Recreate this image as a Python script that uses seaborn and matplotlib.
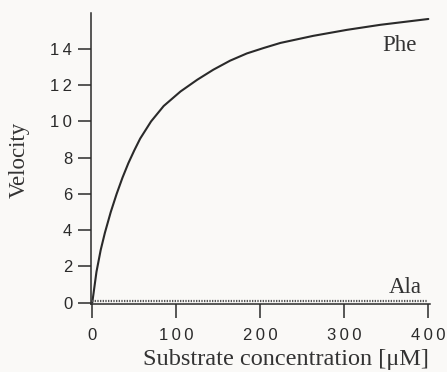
import pandas as pd
import matplotlib.pyplot as plt
import seaborn as sns

# values
phe_substrate = [0, 5, 10, 15, 22, 29, 36, 43, 50, 57, 70, 85, 105, 125, 144,
                 164, 184, 204, 224, 263, 303, 343, 400]
phe_velocity = [0.0, 1.7, 2.9, 3.85, 5.0, 6.0, 6.9, 7.7, 8.4, 9.05, 10.0, 10.85,
                11.65, 12.3, 12.85, 13.35, 13.75, 14.05, 14.33, 14.72, 15.05,
                15.33, 15.65]
ala_substrate = [0, 100, 200, 300, 400]
ala_velocity = [0.1, 0.1, 0.1, 0.1, 0.1]

x_ticks = [0, 100, 200, 300, 400]
y_ticks = [0, 2, 4, 6, 8, 10, 12, 14]

phe = pd.DataFrame({"substrate": phe_substrate, "velocity": phe_velocity})
ala = pd.DataFrame({"substrate": ala_substrate, "velocity": ala_velocity})

sns.set_style("ticks")
plt.rcParams["font.family"] = ["Liberation Serif", "DejaVu Serif"]
bg = "#faf9f7"
ink = "#2a2a2a"
sans = ["Liberation Sans", "DejaVu Sans"]

fig = plt.figure(figsize=(4.47, 3.72), dpi=100, facecolor=bg)
ax = fig.add_axes([0.2036, 0.183, 0.7584, 0.783], facecolor=bg)

sns.lineplot(data=phe, x="substrate", y="velocity", ax=ax, color=ink, linewidth=1.5)
sns.lineplot(data=ala, x="substrate", y="velocity", ax=ax, color="#555555",
             linewidth=1.6, linestyle=(0, (0.6, 0.6)))

ax.set_xlim(-1.5, 402)
ax.set_ylim(-0.07, 16.0)
sns.despine(ax=ax)
for s in ["left", "bottom"]:
    ax.spines[s].set_linewidth(1.1)
    ax.spines[s].set_color(ink)

ax.set_xticks(x_ticks)
ax.set_xticklabels(["\u2009".join(str(v)) for v in x_ticks],
                   family=sans, fontsize=12, color="#2a2a2a")
ax.set_yticks(y_ticks)
ax.set_yticklabels(["\u2009".join(str(v)) for v in y_ticks],
                   family=sans, fontsize=12, color="#2a2a2a")
ax.tick_params(axis="x", direction="out", length=10, width=1.1, color=ink, pad=7)
ax.tick_params(axis="y", direction="out", length=9.5, width=1.1, color=ink, pad=4)

ax.set_xlabel("Substrate concentration [\u03bcM]", fontsize=17.5, color="#333333")
ax.xaxis.set_label_coords(0.575, -0.155)
ax.set_ylabel("Velocity", fontsize=16.5, color="#333333")
ax.yaxis.set_label_coords(-0.18, 0.493)

ax.text(366, 13.87, "Phe", fontsize=16.5, color="#333333", ha="center", va="baseline")
ax.text(373, 0.52, "Ala", fontsize=16.5, color="#333333", ha="center", va="baseline")

fig.savefig("out.png", dpi=100, facecolor=bg)
